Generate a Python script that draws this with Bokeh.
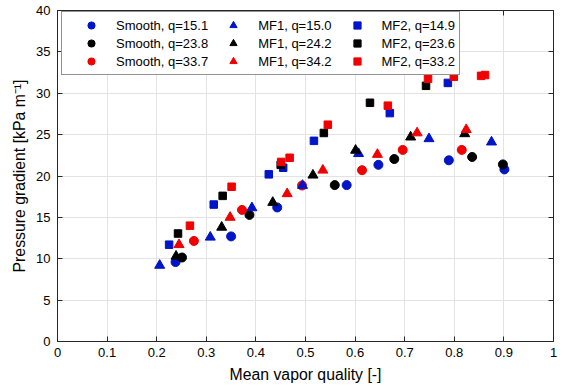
from bokeh.plotting import figure
from bokeh.models import (LinearAxis, FixedTicker, CustomJSTickFormatter, Legend, LegendItem,
                          ColumnDataSource, Range1d)
from bokeh.embed import file_html
from bokeh.resources import INLINE

# ---- data ----
smooth_151_x = [0.238, 0.350, 0.443, 0.583, 0.647, 0.789, 0.901]
smooth_151_y = [9.6, 12.7, 16.2, 18.9, 21.35, 21.9, 20.8]
smooth_238_x = [0.251, 0.387, 0.559, 0.679, 0.836, 0.898]
smooth_238_y = [10.15, 15.3, 18.9, 22.05, 22.3, 21.4]
smooth_337_x = [0.275, 0.372, 0.493, 0.614, 0.696, 0.815]
smooth_337_y = [12.15, 15.9, 18.85, 20.7, 23.15, 23.15]
mf1_150_x = [0.206, 0.308, 0.392, 0.494, 0.607, 0.749, 0.875]
mf1_150_y = [9.2, 12.6, 16.15, 18.85, 22.7, 24.5, 24.1]
mf1_242_x = [0.239, 0.331, 0.434, 0.515, 0.601, 0.712, 0.821]
mf1_242_y = [10.3, 13.8, 16.8, 20.1, 23.1, 24.7, 25.1]
mf1_342_x = [0.245, 0.348, 0.463, 0.535, 0.645, 0.725, 0.824]
mf1_342_y = [11.7, 15.0, 17.85, 20.7, 22.6, 25.2, 25.6]
mf2_149_x = [0.225, 0.315, 0.426, 0.455, 0.517, 0.670, 0.787]
mf2_149_y = [11.7, 16.55, 20.2, 21.0, 24.25, 27.6, 31.25]
mf2_236_x = [0.243, 0.333, 0.450, 0.537, 0.630, 0.743]
mf2_236_y = [13.05, 17.6, 21.35, 25.2, 28.85, 30.9]
mf2_332_x = [0.267, 0.351, 0.451, 0.468, 0.545, 0.666, 0.747, 0.799, 0.854, 0.862]
mf2_332_y = [14.0, 18.7, 21.7, 22.2, 26.2, 28.5, 31.75, 32.0, 32.1, 32.2]

labels = ["Smooth, q=15.1", "Smooth, q=23.8", "Smooth, q=33.7",
          "MF1, q=15.0", "MF1, q=24.2", "MF1, q=34.2",
          "MF2, q=14.9", "MF2, q=23.6", "MF2, q=33.2"]
x_ticks = [0, 0.1, 0.2, 0.3, 0.4, 0.5, 0.6, 0.7, 0.8, 0.9, 1]
y_ticks = [0, 5, 10, 15, 20, 25, 30, 35, 40]

BLUE = "#0014c8"
BLACK = "#000000"
RED = "#f00000"
FONT = "Liberation Sans"
AX = "#262626"

series = [
    (smooth_151_x, smooth_151_y, "circle", BLUE, 9),
    (smooth_238_x, smooth_238_y, "circle", BLACK, 9),
    (smooth_337_x, smooth_337_y, "circle", RED, 9),
    (mf1_150_x, mf1_150_y, "triangle", BLUE, 10),
    (mf1_242_x, mf1_242_y, "triangle", BLACK, 10),
    (mf1_342_x, mf1_342_y, "triangle", RED, 10),
    (mf2_149_x, mf2_149_y, "square", BLUE, 7.5),
    (mf2_236_x, mf2_236_y, "square", BLACK, 7.5),
    (mf2_332_x, mf2_332_y, "square", RED, 7.5),
]

p = figure(width=568, height=391, output_backend="svg", toolbar_location=None,
           x_range=Range1d(0, 1), y_range=Range1d(0, 40),
           min_border_left=57, min_border_right=15, min_border_top=10, min_border_bottom=50,
           x_axis_label="Mean vapor quality [-]",
           y_axis_label="Pressure gradient [kPa m\u207b\u00b9]")
p.background_fill_color = "white"
p.border_fill_color = "white"
p.outline_line_color = AX
p.outline_line_width = 1

p.xaxis.ticker = FixedTicker(ticks=x_ticks)
p.yaxis.ticker = FixedTicker(ticks=y_ticks)
p.xaxis.formatter = CustomJSTickFormatter(code="return String(Math.round(tick*10)/10);")
p.yaxis.formatter = CustomJSTickFormatter(code="return String(Math.round(tick));")

for ax in (p.xaxis[0], p.yaxis[0]):
    ax.axis_line_color = AX
    ax.major_tick_line_color = AX
    ax.major_tick_in = 5
    ax.major_tick_out = 0
    ax.minor_tick_line_color = None
    ax.major_label_text_font = FONT
    ax.major_label_text_font_size = "13px"
    ax.major_label_text_color = "#000000"
    ax.axis_label_text_font = FONT
    ax.axis_label_text_font_size = "15.8px"
    ax.axis_label_text_font_style = "normal"
    ax.axis_label_text_color = "#000000"
p.xaxis.major_label_standoff = 6
p.xaxis.axis_label_standoff = 6
p.yaxis.major_label_standoff = 7
p.yaxis.axis_label_standoff = 5

# mirrored axes (ticks only) on top and right
top = LinearAxis(ticker=FixedTicker(ticks=x_ticks),
                 formatter=CustomJSTickFormatter(code="return '';"))
right = LinearAxis(ticker=FixedTicker(ticks=y_ticks),
                   formatter=CustomJSTickFormatter(code="return '';"))
for ax in (top, right):
    ax.axis_line_color = AX
    ax.major_tick_line_color = AX
    ax.major_tick_in = 5
    ax.major_tick_out = 0
    ax.minor_tick_line_color = None
    ax.major_label_standoff = 0
p.add_layout(top, "above")
p.add_layout(right, "right")

p.grid.grid_line_color = "#e3e3e3"
p.grid.grid_line_width = 1
p.xgrid.ticker = FixedTicker(ticks=x_ticks)
p.ygrid.ticker = FixedTicker(ticks=y_ticks)

items = []
for (xs, ys, marker, color, size), lab in zip(series, labels):
    src = ColumnDataSource(dict(x=xs, y=ys))
    r = p.scatter("x", "y", source=src, marker=marker, size=size,
                  fill_color=color, line_color=color, line_width=1)
    items.append(LegendItem(label=lab, renderers=[r]))

legend = Legend(items=items, orientation="vertical", nrows=3,
                location=(4, 266),
                glyph_width=50, glyph_height=18, label_standoff=0,
                label_height=18, spacing=0, padding=4,
                label_text_font=FONT, label_text_font_size="13px",
                label_text_color="#000000",
                border_line_color=AX, border_line_width=1,
                background_fill_color="white", background_fill_alpha=1)
p.add_layout(legend, "center")

open("out.html", "w").write(file_html(p, INLINE))
